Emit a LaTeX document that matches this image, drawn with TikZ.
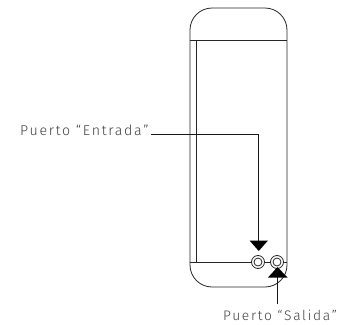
\documentclass[tikz,border=0pt]{standalone}
\usepackage{fontspec}
\setmainfont[LetterSpace=12]{Fira Sans Light}
\tikzset{
  body/.style={draw=black!85,line width=0.8bp},
  lead/.style={draw=black!90,line width=0.8bp},
  tip/.style={fill=black,draw=none},
  port/.style={circle,draw=black!85,line width=0.8bp,fill=white,inner sep=0pt,minimum size=#1},
  lbl/.style={text=black!75,font=\fontsize{14.2bp}{16bp}\selectfont,inner sep=0pt,anchor=base west}
}
\begin{document}
\begin{tikzpicture}[x=1bp,y=-1bp]
\useasboundingbox (0,0) rectangle (341,325);
% body
\draw[body,rounded corners=22bp] (190,8) rectangle (287,287);
\draw[body] (190,40) -- (287,40);
\draw[body] (196,40) -- (196,262);
\draw[body] (190,262) -- (287,262);
% ports
\node[port=13bp] (pa) at (258,262) {};
\node[port=13bp] (pb) at (277,262) {};
\node[port=8bp] (pai) at (258,262) {};
\node[port=8bp] (pbi) at (277,262) {};
% labels
\node[lbl] (ent) at (20,135.5) {Puerto “Entrada”};
\node[lbl,font=\fontsize{13.8bp}{16bp}\selectfont] (sal) at (223,320.5) {Puerto “Salida”};
% leads
\coordinate (ea) at (151,134);
\coordinate (eb) at (258.5,134);
\coordinate (ec) at (258.5,241);
\coordinate (sa) at (277,304);
\coordinate (sb) at (277,277);
\draw[lead] (ea) -- (eb) -- (ec);
\draw[lead] (sa) -- (sb);
\fill[tip] (249.5,240.5) -- (268,240.5) -- (258.75,251) -- cycle;
\fill[tip] (268,277.5) -- (287.5,277.5) -- (277.5,267) -- cycle;
\end{tikzpicture}
\end{document}
